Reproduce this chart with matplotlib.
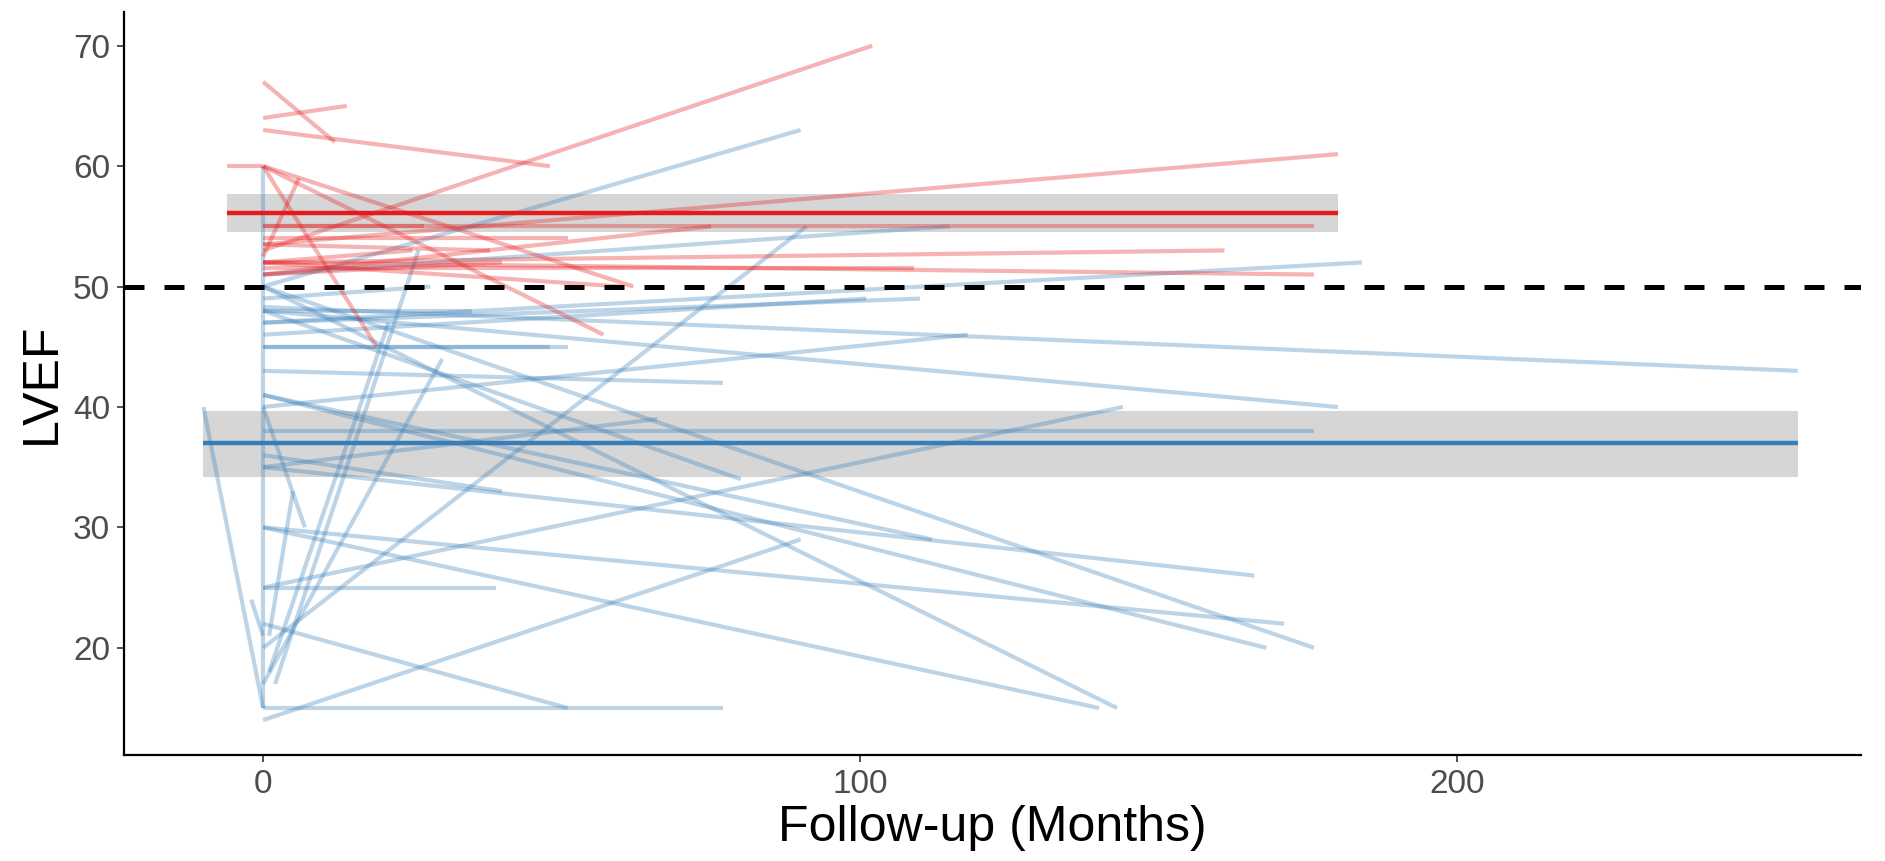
import matplotlib
matplotlib.use("Agg")
import matplotlib.pyplot as plt

# patient trajectories: baseline (x0, y0) -> follow-up (x1, y1)
red_x0 = [0, 0, 0, -6, 0, 0, 0, 0, 0, 0, 0, 0, 0, 0, 0, 0, 0, 0, 0, 0, 0]
red_y0 = [64, 67, 63, 60, 60, 60, 52.5, 53, 53.5, 55, 52, 52, 51.5, 55, 54, 53.5, 52, 52, 51, 60, 51]
red_x1 = [14, 12, 48, 0, 57, 19, 6, 102, 180, 176, 161, 176, 109, 27, 51, 38, 25, 60, 75, 62, 40]
red_y1 = [65, 62, 60, 60, 46, 45, 59, 70, 61, 55, 53, 51, 51.5, 55, 54, 53, 53, 50, 55, 50, 52]

blue_x0 = [0, 0, 0, 0, 0, 0, 0, 0, 0, 0, 0, 0, 0, 0, 0, 0, 0, 0, 0, 0,
           0, -10, -2, 0, 0, 0, 0, 0, 0, 2, 1, 0, 1, 0, 0, 0, 0, 0]
blue_y0 = [50, 47, 51, 20, 48.3, 48, 38, 25, 35, 30, 41, 50, 30, 50, 14, 35, 48, 43, 47, 40,
           46, 40, 24, 15, 22, 25, 41, 45, 45, 17, 18, 17, 21, 40, 15, 48, 49, 36]
blue_x1 = [90, 184, 115, 91, 257, 180, 176, 144, 166, 171, 168, 176, 140, 143, 90, 66, 80, 77, 110, 118,
           101, 0, 0, 77, 51, 39, 112, 48, 51, 26, 21, 30, 5, 7, 0, 35, 28, 40]
blue_y1 = [63, 52, 55, 55, 43, 40, 38, 40, 26, 22, 20, 20, 15, 15, 29, 39, 34, 42, 49, 46,
           49, 15, 21, 15, 15, 25, 29, 45, 45, 53, 47, 44, 33, 30, 60, 48, 50, 33]

# group means with 95% CI (y ~ 1)
red_span = [-6, 180]
red_mean, red_lo, red_hi = 56.1, 54.5, 57.7
blue_span = [-10, 257]
blue_mean, blue_lo, blue_hi = 37.0, 34.2, 39.7

RED = "#E41A1C"
BLUE = "#377EB8"

fig = plt.figure(figsize=(18.85, 8.61), dpi=100)
ax = fig.add_axes([124 / 1885, 1 - 755 / 861, (1861 - 124) / 1885, (755 - 12) / 861])

for x0, y0, x1, y1 in zip(blue_x0, blue_y0, blue_x1, blue_y1):
    ax.plot([x0, x1], [y0, y1], color=BLUE, alpha=0.33, lw=3.0, solid_capstyle="butt")
for x0, y0, x1, y1 in zip(red_x0, red_y0, red_x1, red_y1):
    ax.plot([x0, x1], [y0, y1], color=RED, alpha=0.33, lw=3.0, solid_capstyle="butt")

ax.fill_between(red_span, red_lo, red_hi, color="#999999", alpha=0.4, lw=0)
ax.plot(red_span, [red_mean, red_mean], color=RED, lw=3.2, solid_capstyle="butt")
ax.fill_between(blue_span, blue_lo, blue_hi, color="#999999", alpha=0.4, lw=0)
ax.plot(blue_span, [blue_mean, blue_mean], color=BLUE, lw=3.2, solid_capstyle="butt")

ax.axhline(50, color="black", lw=3.6, ls=(0, (4, 4)))

ax.set_xlim(-23.3, 267.6)
ax.set_ylim(11.1, 72.8)
ax.set_xticks([0, 100, 200])
ax.set_yticks([20, 30, 40, 50, 60, 70])
for s in ["top", "right"]:
    ax.spines[s].set_visible(False)
for s in ["left", "bottom"]:
    ax.spines[s].set_linewidth(1.6)
ax.tick_params(length=5, width=1.2, color="#333333", labelsize=24,
               labelcolor="#4D4D4D", pad=5)
for lab in ax.get_xticklabels() + ax.get_yticklabels():
    lab.set_family("Liberation Sans")
ax.set_xlabel("Follow-up (Months)", fontsize=36, family="Liberation Sans", labelpad=4)
ax.set_ylabel("LVEF", fontsize=36, family="Liberation Sans", labelpad=6)

fig.savefig("out.png", dpi=100)
